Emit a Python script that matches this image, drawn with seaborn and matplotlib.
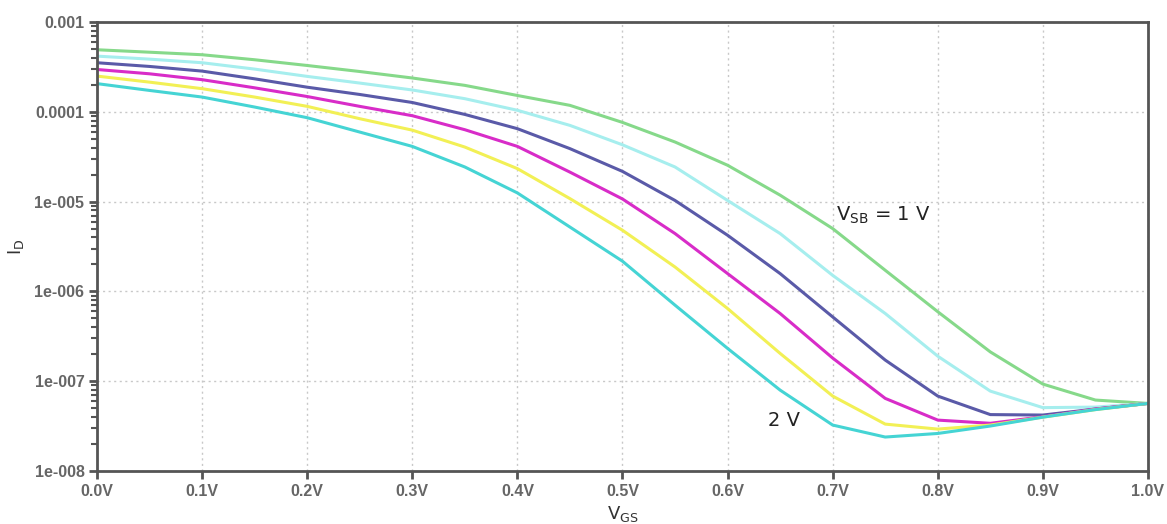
import numpy as np
import pandas as pd
import seaborn as sns
import matplotlib
matplotlib.use("Agg")
import matplotlib.pyplot as plt
from matplotlib.ticker import LogLocator, NullFormatter

# gate voltage samples (V)
vgs = [0.0, 0.05, 0.1, 0.15, 0.2, 0.25, 0.3, 0.35, 0.4, 0.45, 0.5, 0.55, 0.6, 0.65, 0.7,
       0.75, 0.8, 0.85, 0.9, 0.95, 1.0]
vsb = ["1.0 V", "1.2 V", "1.4 V", "1.6 V", "1.8 V", "2.0 V"]

# drain current (A), one list per source-bulk voltage
id_10 = [4.91e-4, 4.61e-4, 4.32e-4, 3.80e-4, 3.28e-4, 2.81e-4, 2.38e-4, 1.97e-4, 1.52e-4,
         1.18e-4, 7.62e-5, 4.61e-5, 2.54e-5, 1.18e-5, 5.01e-6, 1.72e-6, 5.94e-7, 2.12e-7,
         9.29e-8, 6.17e-8, 5.66e-8]
id_12 = [4.17e-4, 3.86e-4, 3.52e-4, 2.99e-4, 2.48e-4, 2.09e-4, 1.75e-4, 1.40e-4, 1.04e-4,
         7.06e-5, 4.29e-5, 2.43e-5, 1.03e-5, 4.41e-6, 1.51e-6, 5.68e-7, 1.90e-7, 7.76e-8,
         5.08e-8, 5.15e-8, 5.66e-8]
id_14 = [3.52e-4, 3.20e-4, 2.84e-4, 2.33e-4, 1.88e-4, 1.56e-4, 1.27e-4, 9.35e-5, 6.49e-5,
         3.89e-5, 2.17e-5, 1.03e-5, 4.22e-6, 1.58e-6, 5.20e-7, 1.72e-7, 6.83e-8, 4.25e-8,
         4.20e-8, 4.90e-8, 5.66e-8]
id_16 = [2.96e-4, 2.65e-4, 2.28e-4, 1.85e-4, 1.48e-4, 1.15e-4, 9.05e-5, 6.32e-5, 4.12e-5,
         2.13e-5, 1.07e-5, 4.41e-6, 1.58e-6, 5.68e-7, 1.81e-7, 6.44e-8, 3.69e-8, 3.40e-8,
         4.02e-8, 4.90e-8, 5.66e-8]
id_18 = [2.50e-4, 2.14e-4, 1.81e-4, 1.46e-4, 1.15e-4, 8.38e-5, 6.25e-5, 4.05e-5, 2.33e-5,
         1.08e-5, 4.80e-6, 1.87e-6, 6.45e-7, 2.04e-7, 6.83e-8, 3.33e-8, 2.93e-8, 3.25e-8,
         3.98e-8, 4.83e-8, 5.66e-8]
id_20 = [2.06e-4, 1.73e-4, 1.46e-4, 1.13e-4, 8.60e-5, 5.95e-5, 4.12e-5, 2.43e-5, 1.25e-5,
         5.21e-6, 2.17e-6, 7.03e-7, 2.32e-7, 7.96e-8, 3.25e-8, 2.39e-8, 2.62e-8, 3.17e-8,
         3.98e-8, 4.83e-8, 5.66e-8]

colors = ["#86d98a", "#a6eeee", "#5a5aa8", "#d82cc8", "#f2f055", "#45d4d4"]

ytick_vals = [1e-8, 1e-7, 1e-6, 1e-5, 1e-4, 1e-3]
ytick_labels = ["1e-008", "1e-007", "1e-006", "1e-005", "0.0001", "0.001"]
xtick_vals = [0.0, 0.1, 0.2, 0.3, 0.4, 0.5, 0.6, 0.7, 0.8, 0.9, 1.0]
xtick_labels = ["0.0V", "0.1V", "0.2V", "0.3V", "0.4V", "0.5V",
                "0.6V", "0.7V", "0.8V", "0.9V", "1.0V"]

df = pd.concat([pd.DataFrame({"VGS": vgs, "ID": cur, "VSB": name})
                for name, cur in zip(vsb, [id_10, id_12, id_14, id_16, id_18, id_20])])

sns.set_theme(style="white")
plt.rcParams["font.family"] = ["DejaVu Sans"]

fig = plt.figure(figsize=(11.67, 5.24), dpi=100)
ax = fig.add_axes([0.0831, 0.1011, 0.9006, 0.8569])

sns.lineplot(data=df, x="VGS", y="ID", hue="VSB", palette=colors, legend=False,
             linewidth=2.2, estimator=None, sort=False, ax=ax)

ax.set_yscale("log")
ax.set_ylim(1e-8, 1e-3)
ax.set_xlim(0, 1)

ax.set_yticks(ytick_vals)
ax.set_yticklabels(ytick_labels)
ax.yaxis.set_minor_locator(LogLocator(base=10, subs=np.arange(2, 10)))
ax.yaxis.set_minor_formatter(NullFormatter())
ax.set_xticks(xtick_vals)
ax.set_xticklabels(xtick_labels)

for lab in ax.get_xticklabels() + ax.get_yticklabels():
    lab.set_fontfamily("Liberation Sans")
    lab.set_fontweight("bold")
    lab.set_fontsize(11.5)
    lab.set_color("#666666")

ax.tick_params(axis="both", which="major", direction="out", length=6, width=2,
               color="#555555", pad=3, bottom=True, left=True)
ax.tick_params(axis="y", which="minor", direction="out", length=4, width=1.5,
               color="#555555", left=True)

ax.grid(True, which="major", linestyle=(0, (1.5, 2.5)), color="#c8c8c8", linewidth=1)

for sp in ax.spines.values():
    sp.set_color("#555555")
    sp.set_linewidth(2)

ax.set_xlabel(r"$\mathregular{V_{GS}}$", fontsize=13, color="#333333", labelpad=4)
ax.set_ylabel(r"$\mathregular{I_D}$", fontsize=13, color="#333333", labelpad=6)

ax.text(0.703, 7.05e-6, r"$\mathregular{V_{SB}}$ = 1 V", fontsize=14, color="#222222",
        va="center", ha="left")
ax.text(0.638, 3.69e-8, "2 V", fontsize=14, color="#222222", va="center", ha="left")

fig.savefig("out.png", dpi=100)
